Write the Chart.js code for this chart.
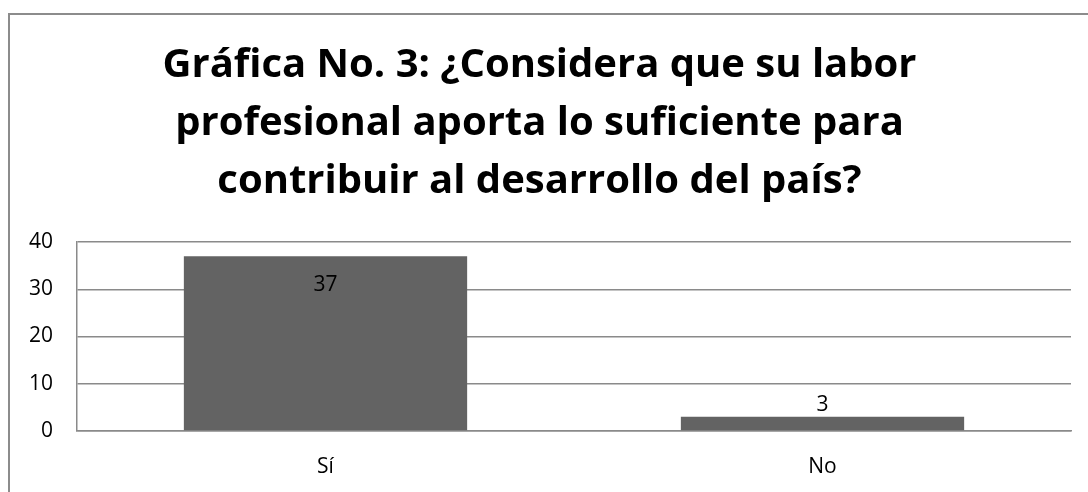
<!DOCTYPE html>
<html>
<head>
<meta charset="utf-8">
<script src="https://cdn.jsdelivr.net/npm/chart.js@4.4.1/dist/chart.umd.min.js"></script>
<style>
  html, body { margin: 0; padding: 0; background: #fff; overflow: hidden; width: 1088px; height: 492px; }
  #frame { position: absolute; left: 8px; top: 13px; width: 1086px; height: 500px; border-left: 2px solid #8c8c8c; border-top: 2px solid #8c8c8c; box-sizing: border-box; }
  #wrap { position: absolute; left: 8px; top: 13px; width: 1086px; height: 479px; }
</style>
</head>
<body>
<div id="frame"></div>
<div id="wrap"><canvas id="c"></canvas></div>
<script>
const titleLines = ['Gráfica No. 3: ¿Considera que su labor', 'profesional aporta lo suficiente para', 'contribuir al desarrollo del país?'];
const categories = ['Sí', 'No'];
const values = [37, 3];
const yTicks = [0, 10, 20, 30, 40];

const FONT = '"Open Sans", Lato, sans-serif';

const valueLabels = {
  id: 'valueLabels',
  afterDatasetsDraw(chart) {
    const ctx = chart.ctx;
    const meta = chart.getDatasetMeta(0);
    ctx.save();
    ctx.font = '21px ' + FONT;
    ctx.fillStyle = '#000';
    ctx.textAlign = 'center';
    ctx.textBaseline = 'middle';
    meta.data.forEach((bar, i) => {
      const v = values[i];
      const h = bar.base - bar.y;
      let y;
      if (h > 40) y = bar.y + 29; else y = bar.y - 12;
      ctx.fillText(String(v), bar.x, y);
    });
    ctx.restore();
  }
};

new Chart(document.getElementById('c'), {
  type: 'bar',
  data: {
    labels: categories,
    datasets: [{
      data: values,
      backgroundColor: '#636363',
      borderWidth: 0,
      categoryPercentage: 1.0,
      barPercentage: 0.57
    }]
  },
  options: {
    responsive: true,
    maintainAspectRatio: false,
    animation: false,
    layout: { padding: { left: 0, right: 23, top: 0, bottom: 0 } },
    plugins: {
      legend: { display: false },
      tooltip: { enabled: false },
      title: {
        display: true,
        text: titleLines,
        color: '#000',
        font: { family: FONT, size: 40, weight: 'bold', lineHeight: 1.45 },
        padding: { top: 24, bottom: 31 }
      }
    },
    scales: {
      x: {
        grid: { display: false, drawTicks: false },
        border: { display: true, color: '#8a8a8a', width: 1.5 },
        ticks: { color: '#000', font: { family: FONT, size: 21 }, padding: 23, maxRotation: 0 },
        afterFit(s) { s.height = 61; }
      },
      y: {
        min: 0, max: 40,
        afterBuildTicks(s) { s.ticks = yTicks.map(v => ({ value: v })); },
        grid: { color: '#8a8a8a', lineWidth: 1.5, drawTicks: false },
        border: { display: true, color: '#8a8a8a', width: 1.5 },
        ticks: { color: '#000', font: { family: FONT, size: 21 }, padding: 24 },
        afterFit(s) { s.width = 69; }
      }
    }
  },
  plugins: [valueLabels]
});
</script>
</body>
</html>
